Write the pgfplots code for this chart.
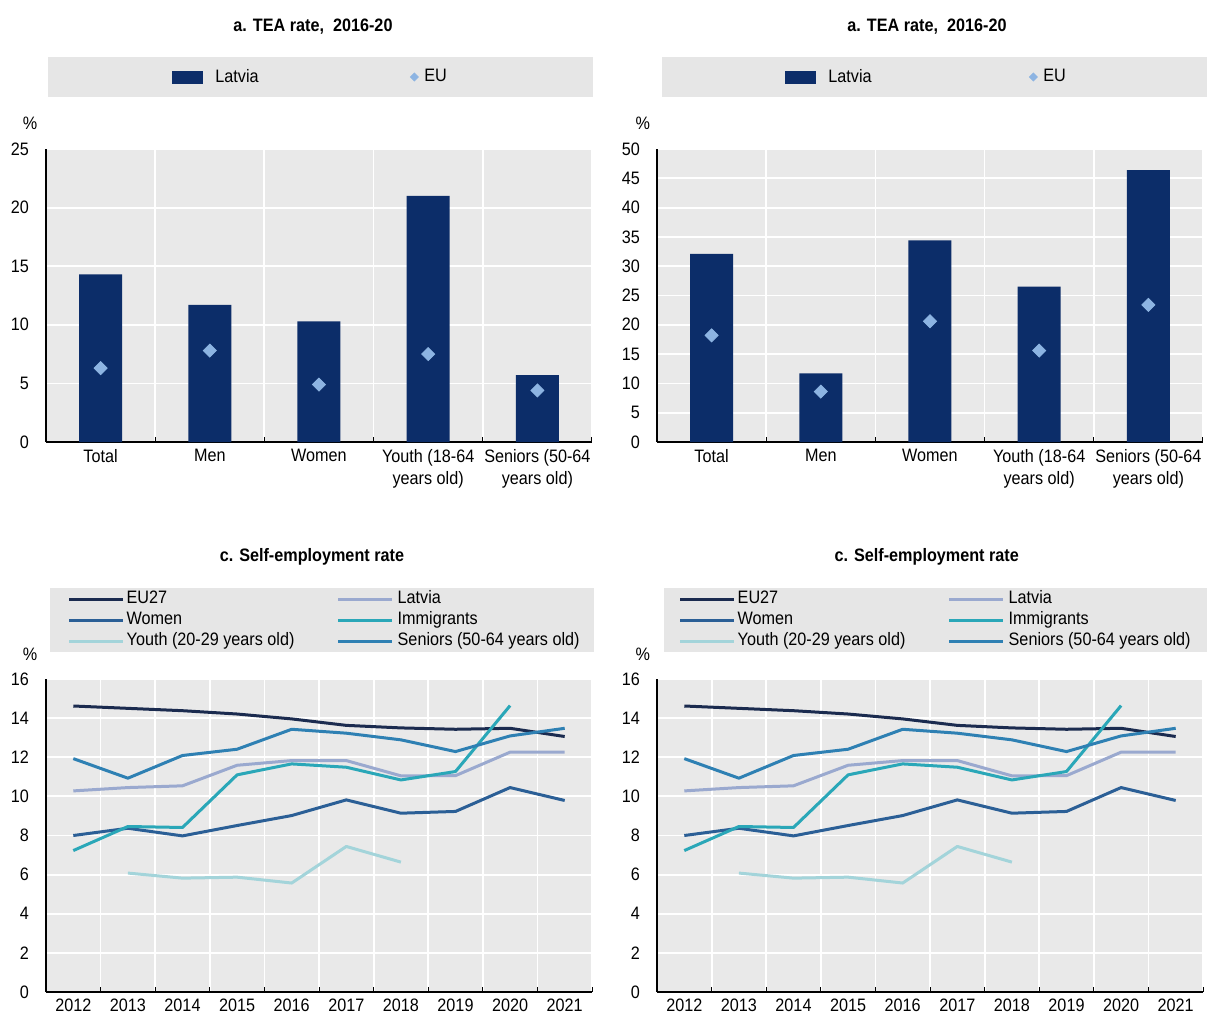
\documentclass[border=0pt]{standalone}
\usepackage{fontspec}
\setmainfont{Liberation Sans}[FakeStretch=0.9]
\usepackage{pgfplots}
\usepackage{pgfplotstable}
\pgfplotsset{compat=1.18}

\definecolor{bgray}{HTML}{E9E9E9}
\definecolor{lgray}{HTML}{E6E6E6}
\definecolor{latvia}{HTML}{0C2D69}
\definecolor{eu}{HTML}{8DB4E2}
\definecolor{cEU}{HTML}{1B2B4F}
\definecolor{cLV}{HTML}{9AA9CF}
\definecolor{cW}{HTML}{2B5F96}
\definecolor{cIm}{HTML}{2AA7B8}
\definecolor{cY}{HTML}{A3D4DA}
\definecolor{cS}{HTML}{2E80B3}

\pgfplotstableread{
x lv eu
0 14.3 6.3
1 11.7 7.8
2 10.3 4.9
3 21.0 7.5
4 5.7 4.4
}\teaA
\pgfplotstableread{
x lv eu
0 32.1 18.2
1 11.7 8.6
2 34.4 20.6
3 26.5 15.6
4 46.4 23.4
}\teaB
\pgfplotstableread{
year eu lv women imm youth sen
2012 14.62 10.28 8.00 7.23 nan 11.93
2013 14.50 10.45 8.37 8.46 6.08 10.93
2014 14.38 10.54 7.98 8.41 5.82 12.09
2015 14.21 11.59 8.51 11.10 5.87 12.41
2016 13.96 11.83 9.02 11.66 5.57 13.43
2017 13.63 11.83 9.82 11.49 7.44 13.23
2018 13.50 11.05 9.14 10.84 6.64 12.89
2019 13.43 11.06 9.23 11.27 nan 12.29
2020 13.48 12.26 10.45 14.64 nan 13.09
2021 13.06 12.26 9.79 nan nan 13.48
}\selfemp

\pgfplotsset{
  panel/.style={
    scale only axis, width=273pt,
    axis background/.style={fill=bgray},
    axis x line*=bottom, axis y line*=left,
    axis line style={black, line width=0.6pt},
    tick style={black, line width=0.5pt},
    ymajorgrids, xminorgrids,
    grid style={white, line width=0.9pt},
    minor grid style={white, line width=0.9pt},
    major tick length=0pt, minor tick length=2.5pt, tick align=inside,
    font=\fontsize{9}{11}\selectfont,
    tick label style={font=\fontsize{9}{11}\selectfont},
    /pgf/number format/assume math mode=true,
    yticklabel style={xshift=-5pt},
    ylabel={\%},
    every axis title shift=0pt,
    title style={font=\bfseries\fontsize{9}{11}\selectfont, anchor=center},
    legend cell align=left,
  },
  barpanel/.style={
    panel, height=146.5pt,
    xmin=-0.5, xmax=4.5, ymin=0,
    xtick={0,1,2,3,4},
    xticklabels={Total, Men, Women, {Youth (18-64\\years old)}, {Seniors (50-64\\years old)}},
    xticklabel style={align=center},
    minor xtick={0.5,1.5,2.5,3.5,4.5},
    title={a. TEA rate,~ 2016-20},
    legend columns=2,
  },
  linepanel/.style={
    panel, height=156.5pt,
    xmin=2011.5, xmax=2021.5, ymin=0, ymax=16,
    ytick={0,2,4,6,8,10,12,14,16},
    xtick={2012,2013,2014,2015,2016,2017,2018,2019,2020,2021},
    xticklabels={2012,2013,2014,2015,2016,2017,2018,2019,2020,2021},
    minor xtick={2012.5,2013.5,2014.5,2015.5,2016.5,2017.5,2018.5,2019.5,2020.5,2021.5},
    title={c. Self-employment rate},
    legend columns=2,
    legend image code/.code={\draw[##1] (0pt,0pt) -- (27pt,0pt);},
    legend style={at={(axis description cs:0.039,1.1885)}, anchor=west, draw=none, fill=none,
      inner sep=0pt, column sep=0pt, row sep=2pt,
      nodes={inner sep=0pt, text height=6.5pt, text depth=2pt}},
  },
  latviabar/.style={ybar, bar width=21.5pt, fill=latvia, draw=none,
    legend image code/.code={\fill[latvia] (0pt,-3.25pt) rectangle (15.5pt,3.25pt);}},
  eumark/.style={only marks, mark=square*, mark size=2.3pt,
    mark options={rotate=45, fill=eu, draw=eu},
    legend image code/.code={\draw[##1, mark size=1.4pt] plot coordinates {(0pt,0pt)};}},
  sline/.style={line width=1.5pt, line join=round},
}

\begin{document}
\begin{tikzpicture}
\useasboundingbox (0pt,0pt) rectangle (603.5pt,-508.5pt);
\fill[lgray] (24pt,-28.5pt) rectangle (296.5pt,-48.5pt);
\fill[lgray] (331pt,-28.5pt) rectangle (603.5pt,-48.5pt);
\fill[lgray] (25pt,-294pt) rectangle (297pt,-326pt);
\fill[lgray] (332pt,-294pt) rectangle (603.5pt,-326pt);

% top left
\begin{axis}[barpanel, at={(23pt,-221pt)}, anchor=south west,
  ymax=25, ytick={0,5,10,15,20,25},
  title style={at={(axis description cs:0.489,1.4164)}},
  y label style={at={(axis description cs:-0.029,1.089)}, rotate=-90, anchor=center},
  legend style={at={(axis description cs:0.2308,1.2457)}, anchor=west, draw=none, fill=none,
    inner sep=0pt, column sep=0pt, nodes={inner sep=0pt}},
  ]
\addplot[latviabar] table[x=x, y=lv] {\teaA};
\addlegendentry{\makebox[103.5pt][l]{\hspace*{6pt}Latvia}}
\addplot[eumark] table[x=x, y=eu] {\teaA};
\addlegendentry{\hspace*{3pt}EU}
\end{axis}

% top right
\begin{axis}[barpanel, at={(328.5pt,-221pt)}, anchor=south west,
  ymax=50, ytick={0,5,10,15,20,25,30,35,40,45,50},
  title style={at={(axis description cs:0.4945,1.4164)}},
  y label style={at={(axis description cs:-0.026,1.089)}, rotate=-90, anchor=center},
  legend style={at={(axis description cs:0.2344,1.2457)}, anchor=west, draw=none, fill=none,
    inner sep=0pt, column sep=0pt, nodes={inner sep=0pt}},
  ]
\addplot[latviabar] table[x=x, y=lv] {\teaB};
\addlegendentry{\makebox[106.5pt][l]{\hspace*{6pt}Latvia}}
\addplot[eumark] table[x=x, y=eu] {\teaB};
\addlegendentry{\hspace*{3pt}EU}
\end{axis}

% bottom left
\begin{axis}[linepanel, at={(23pt,-496pt)}, anchor=south west,
  title style={at={(axis description cs:0.487,1.39)}},
  y label style={at={(axis description cs:-0.029,1.08)}, rotate=-90, anchor=center}]
\addplot[sline, cEU] table[x=year, y=eu] {\selfemp};
\addlegendentry{\makebox[106pt][l]{\hspace*{1pt}EU27}}
\addplot[sline, cLV] table[x=year, y=lv] {\selfemp};
\addlegendentry{\hspace*{2pt}Latvia}
\addplot[sline, cW] table[x=year, y=women] {\selfemp};
\addlegendentry{\makebox[106pt][l]{\hspace*{1pt}Women}}
\addplot[sline, cIm] table[x=year, y=imm] {\selfemp};
\addlegendentry{\hspace*{2pt}Immigrants}
\addplot[sline, cY] table[x=year, y=youth] {\selfemp};
\addlegendentry{\makebox[106pt][l]{\hspace*{1pt}Youth (20-29 years old)}}
\addplot[sline, cS] table[x=year, y=sen] {\selfemp};
\addlegendentry{\hspace*{2pt}Seniors (50-64 years old)}
\end{axis}

% bottom right
\begin{axis}[linepanel, at={(328.5pt,-496pt)}, anchor=south west,
  title style={at={(axis description cs:0.494,1.39)}},
  y label style={at={(axis description cs:-0.026,1.08)}, rotate=-90, anchor=center}]
\addplot[sline, cEU] table[x=year, y=eu] {\selfemp};
\addlegendentry{\makebox[106pt][l]{\hspace*{1pt}EU27}}
\addplot[sline, cLV] table[x=year, y=lv] {\selfemp};
\addlegendentry{\hspace*{2pt}Latvia}
\addplot[sline, cW] table[x=year, y=women] {\selfemp};
\addlegendentry{\makebox[106pt][l]{\hspace*{1pt}Women}}
\addplot[sline, cIm] table[x=year, y=imm] {\selfemp};
\addlegendentry{\hspace*{2pt}Immigrants}
\addplot[sline, cY] table[x=year, y=youth] {\selfemp};
\addlegendentry{\makebox[106pt][l]{\hspace*{1pt}Youth (20-29 years old)}}
\addplot[sline, cS] table[x=year, y=sen] {\selfemp};
\addlegendentry{\hspace*{2pt}Seniors (50-64 years old)}
\end{axis}
\end{tikzpicture}
\end{document}
